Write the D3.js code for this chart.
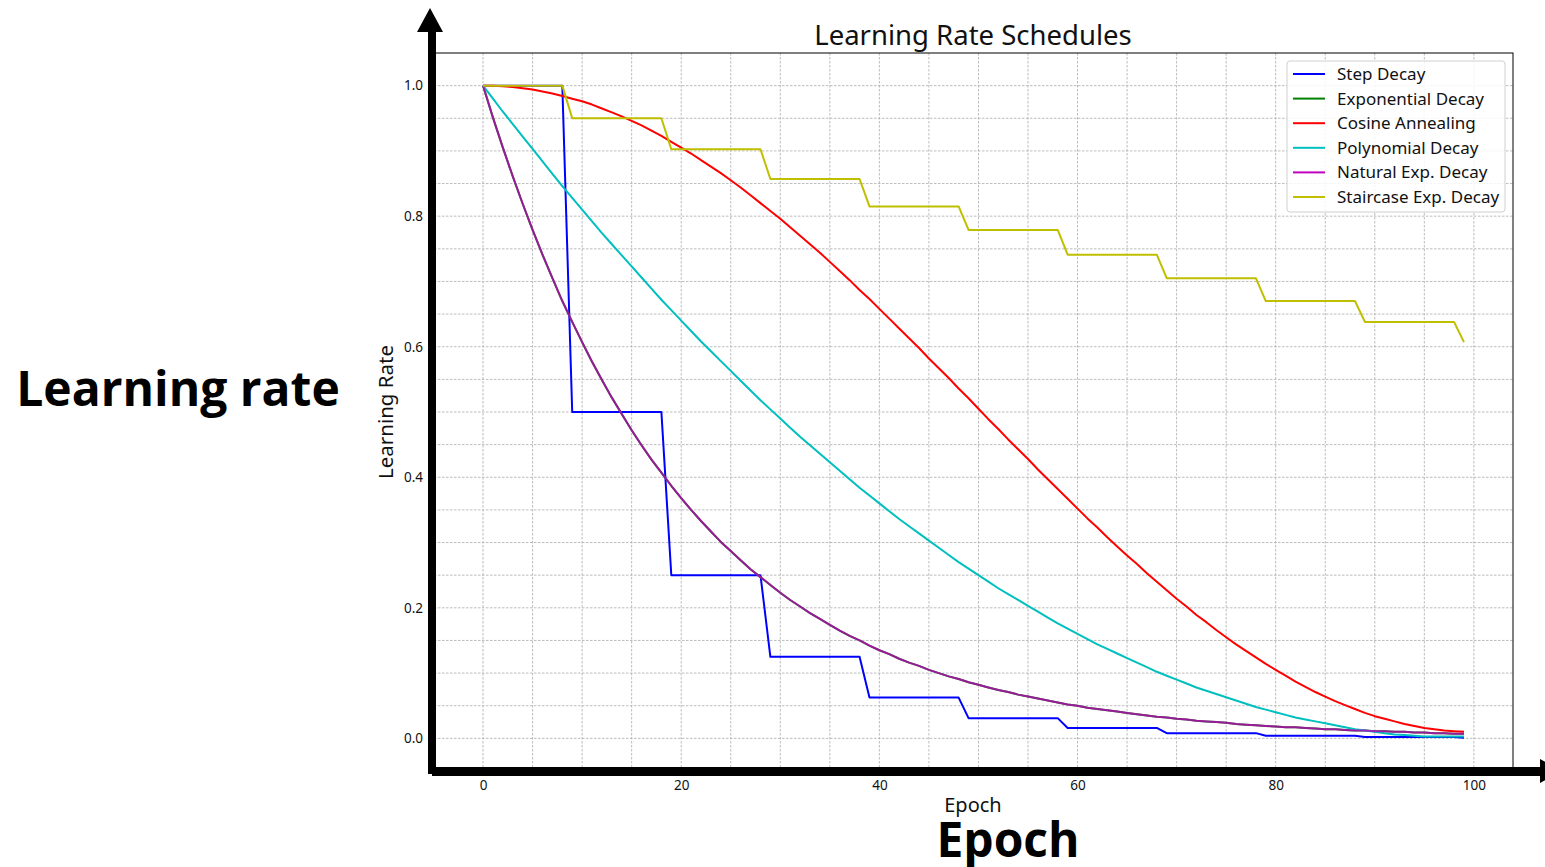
<!DOCTYPE html>
<html>
<head>
<meta charset="utf-8">
<script src="https://cdn.jsdelivr.net/npm/d3@7"></script>
<style>
  body { margin: 0; background: #fff; }
</style>
</head>
<body>
<div id="chart-area"></div>
<script>
// Epochs 0..99
const epochs = d3.range(0, 100)

// Values, one per epoch
const stepDecay = [
  1, 1, 1, 1, 1, 1, 1, 1, 1,
  0.5, 0.5, 0.5, 0.5, 0.5, 0.5, 0.5, 0.5, 0.5, 0.5,
  0.25, 0.25, 0.25, 0.25, 0.25, 0.25, 0.25, 0.25, 0.25, 0.25,
  0.125, 0.125, 0.125, 0.125, 0.125, 0.125, 0.125, 0.125, 0.125, 0.125,
  0.0625, 0.0625, 0.0625, 0.0625, 0.0625, 0.0625, 0.0625, 0.0625, 0.0625, 0.0625,
  0.031, 0.031, 0.031, 0.031, 0.031, 0.031, 0.031, 0.031, 0.031, 0.031,
  0.016, 0.016, 0.016, 0.016, 0.016, 0.016, 0.016, 0.016, 0.016, 0.016,
  0.008, 0.008, 0.008, 0.008, 0.008, 0.008, 0.008, 0.008, 0.008, 0.008,
  0.004, 0.004, 0.004, 0.004, 0.004, 0.004, 0.004, 0.004, 0.004, 0.004,
  0.002, 0.002, 0.002, 0.002, 0.002, 0.002, 0.002, 0.002, 0.002, 0.002,
  0.001
]

const expDecay = [
  1.000, 0.951, 0.905, 0.861, 0.819, 0.779, 0.741, 0.705, 0.670, 0.638,
  0.607, 0.577, 0.549, 0.522, 0.497, 0.472, 0.449, 0.427, 0.407, 0.387,
  0.368, 0.350, 0.333, 0.317, 0.301, 0.287, 0.273, 0.259, 0.247, 0.235,
  0.223, 0.212, 0.202, 0.192, 0.183, 0.174, 0.165, 0.157, 0.150, 0.142,
  0.135, 0.129, 0.122, 0.116, 0.111, 0.105, 0.100, 0.095, 0.091, 0.086,
  0.082, 0.078, 0.074, 0.071, 0.067, 0.064, 0.061, 0.058, 0.055, 0.052,
  0.050, 0.047, 0.045, 0.043, 0.041, 0.039, 0.037, 0.035, 0.033, 0.032,
  0.030, 0.029, 0.027, 0.026, 0.025, 0.024, 0.022, 0.021, 0.020, 0.019,
  0.018, 0.017, 0.017, 0.016, 0.015, 0.014, 0.014, 0.013, 0.012, 0.012,
  0.011, 0.011, 0.010, 0.010, 0.009, 0.009, 0.008, 0.008, 0.007, 0.007
]

const cosineAnnealing = [
  1.000, 1.000, 0.999, 0.998, 0.996, 0.994, 0.991, 0.988, 0.984, 0.980,
  0.976, 0.971, 0.965, 0.959, 0.953, 0.946, 0.939, 0.931, 0.923, 0.914,
  0.905, 0.896, 0.886, 0.876, 0.866, 0.855, 0.844, 0.832, 0.820, 0.808,
  0.796, 0.783, 0.770, 0.757, 0.744, 0.730, 0.716, 0.702, 0.687, 0.673,
  0.658, 0.643, 0.628, 0.613, 0.598, 0.582, 0.567, 0.552, 0.536, 0.521,
  0.505, 0.489, 0.474, 0.458, 0.443, 0.428, 0.412, 0.397, 0.382, 0.367,
  0.352, 0.337, 0.323, 0.308, 0.294, 0.280, 0.267, 0.253, 0.240, 0.227,
  0.214, 0.202, 0.189, 0.178, 0.166, 0.155, 0.144, 0.134, 0.124, 0.114,
  0.105, 0.096, 0.087, 0.079, 0.071, 0.064, 0.057, 0.051, 0.045, 0.039,
  0.034, 0.030, 0.026, 0.022, 0.019, 0.016, 0.014, 0.012, 0.011, 0.010
]

const polyDecay = [
  1.000, 0.980, 0.960, 0.941, 0.922, 0.903, 0.884, 0.865, 0.846, 0.828,
  0.810, 0.792, 0.774, 0.757, 0.740, 0.723, 0.706, 0.689, 0.672, 0.656,
  0.640, 0.624, 0.608, 0.593, 0.578, 0.563, 0.548, 0.533, 0.518, 0.504,
  0.490, 0.476, 0.462, 0.449, 0.436, 0.423, 0.410, 0.397, 0.384, 0.372,
  0.360, 0.348, 0.336, 0.325, 0.314, 0.303, 0.292, 0.281, 0.270, 0.260,
  0.250, 0.240, 0.230, 0.221, 0.212, 0.203, 0.194, 0.185, 0.176, 0.168,
  0.160, 0.152, 0.144, 0.137, 0.130, 0.123, 0.116, 0.109, 0.102, 0.096,
  0.090, 0.084, 0.078, 0.073, 0.068, 0.063, 0.058, 0.053, 0.048, 0.044,
  0.040, 0.036, 0.032, 0.029, 0.026, 0.023, 0.020, 0.017, 0.014, 0.012,
  0.010, 0.008, 0.006, 0.005, 0.004, 0.003, 0.003, 0.003, 0.003, 0.003
]

// Natural exp. decay lies right on top of the exponential curve
const naturalExpDecay = [
  1.000, 0.951, 0.905, 0.861, 0.819, 0.779, 0.741, 0.705, 0.670, 0.638,
  0.607, 0.577, 0.549, 0.522, 0.497, 0.472, 0.449, 0.427, 0.407, 0.387,
  0.368, 0.350, 0.333, 0.317, 0.301, 0.287, 0.273, 0.259, 0.247, 0.235,
  0.223, 0.212, 0.202, 0.192, 0.183, 0.174, 0.165, 0.157, 0.150, 0.142,
  0.135, 0.129, 0.122, 0.116, 0.111, 0.105, 0.100, 0.095, 0.091, 0.086,
  0.082, 0.078, 0.074, 0.071, 0.067, 0.064, 0.061, 0.058, 0.055, 0.052,
  0.050, 0.047, 0.045, 0.043, 0.041, 0.039, 0.037, 0.035, 0.033, 0.032,
  0.030, 0.029, 0.027, 0.026, 0.025, 0.024, 0.022, 0.021, 0.020, 0.019,
  0.018, 0.017, 0.017, 0.016, 0.015, 0.014, 0.014, 0.013, 0.012, 0.012,
  0.011, 0.011, 0.010, 0.010, 0.009, 0.009, 0.008, 0.008, 0.007, 0.007
]

const staircaseDecay = [
  1, 1, 1, 1, 1, 1, 1, 1, 1,
  0.95, 0.95, 0.95, 0.95, 0.95, 0.95, 0.95, 0.95, 0.95, 0.95,
  0.9025, 0.9025, 0.9025, 0.9025, 0.9025, 0.9025, 0.9025, 0.9025, 0.9025, 0.9025,
  0.857, 0.857, 0.857, 0.857, 0.857, 0.857, 0.857, 0.857, 0.857, 0.857,
  0.815, 0.815, 0.815, 0.815, 0.815, 0.815, 0.815, 0.815, 0.815, 0.815,
  0.779, 0.779, 0.779, 0.779, 0.779, 0.779, 0.779, 0.779, 0.779, 0.779,
  0.741, 0.741, 0.741, 0.741, 0.741, 0.741, 0.741, 0.741, 0.741, 0.741,
  0.705, 0.705, 0.705, 0.705, 0.705, 0.705, 0.705, 0.705, 0.705, 0.705,
  0.670, 0.670, 0.670, 0.670, 0.670, 0.670, 0.670, 0.670, 0.670, 0.670,
  0.638, 0.638, 0.638, 0.638, 0.638, 0.638, 0.638, 0.638, 0.638, 0.638,
  0.607
]

const seriesNames = ["Step Decay", "Exponential Decay", "Cosine Annealing",
  "Polynomial Decay", "Natural Exp. Decay", "Staircase Exp. Decay"]
const seriesValues = [stepDecay, expDecay, cosineAnnealing, polyDecay, naturalExpDecay, staircaseDecay]
const seriesColors = ["#0000ff", "#008000", "#ff0000", "#00bfbf", "#bf00bf", "#bfbf00"]

const xTicks = [0, 20, 40, 60, 80, 100]
const yTicks = [0.0, 0.2, 0.4, 0.6, 0.8, 1.0]

const FONT = "'Noto Sans', 'Open Sans', sans-serif"

// Plot area in page pixels
const W = 1545, H = 867
const PLOT = { LEFT: 434, RIGHT: 1513, TOP: 53, BOTTOM: 771 }

const svg = d3.select("#chart-area").append("svg")
  .attr("width", W)
  .attr("height", H)

const x = d3.scaleLinear().domain([-4.95, 103.95]).range([PLOT.LEFT, PLOT.RIGHT])
const y = d3.scaleLinear().domain([-0.05, 1.05]).range([PLOT.BOTTOM, PLOT.TOP])

// Grid (major + minor, both dashed)
const grid = svg.append("g").attr("class", "grid")
grid.selectAll("line.vx")
  .data(d3.range(0, 101, 5))
  .enter().append("line")
  .attr("x1", d => x(d)).attr("x2", d => x(d))
  .attr("y1", PLOT.TOP).attr("y2", PLOT.BOTTOM)
grid.selectAll("line.hy")
  .data(d3.range(0, 21).map(i => i * 0.05))
  .enter().append("line")
  .attr("x1", PLOT.LEFT).attr("x2", PLOT.RIGHT)
  .attr("y1", d => y(d)).attr("y2", d => y(d))
grid.selectAll("line")
  .attr("stroke", "#b4b4b4")
  .attr("stroke-width", 0.9)
  .attr("stroke-dasharray", "2.5,1.5")

// Frame (top and right show, the others sit under the thick arrows)
svg.append("rect")
  .attr("x", PLOT.LEFT).attr("y", PLOT.TOP)
  .attr("width", PLOT.RIGHT - PLOT.LEFT).attr("height", PLOT.BOTTOM - PLOT.TOP)
  .attr("fill", "none").attr("stroke", "#000").attr("stroke-width", 1)

// Lines
const line = d3.line()
  .x((d, i) => x(epochs[i]))
  .y(d => y(d))

seriesValues.forEach((vals, i) => {
  svg.append("path")
    .datum(vals)
    .attr("d", line)
    .attr("fill", "none")
    .attr("stroke", seriesColors[i])
    .attr("stroke-width", 2)
    .attr("stroke-opacity", i === 4 ? 0.8 : 1)
    .attr("stroke-linejoin", "round")
})

// Tick labels
const xAxis = svg.append("g")
  .attr("transform", `translate(0, ${PLOT.BOTTOM})`)
  .call(d3.axisBottom(x).tickValues(xTicks).tickSize(0).tickPadding(9))
xAxis.select(".domain").remove()
xAxis.selectAll("text").style("font-size", "13.5px").style("font-family", FONT).attr("fill", "#111")

const yAxis = svg.append("g")
  .attr("transform", `translate(${PLOT.LEFT}, 0)`)
  .call(d3.axisLeft(y).tickValues(yTicks).tickFormat(d3.format(".1f")).tickSize(0).tickPadding(11))
yAxis.select(".domain").remove()
yAxis.selectAll("text").style("font-size", "13.5px").style("font-family", FONT).attr("fill", "#111")

// Title and axis labels
svg.append("text")
  .attr("x", 973)
  .attr("y", 45)
  .attr("text-anchor", "middle")
  .style("font-family", FONT)
  .style("font-size", "27.5px")
  .attr("fill", "#111")
  .text("Learning Rate Schedules")

svg.append("text")
  .attr("x", 973)
  .attr("y", 812)
  .attr("text-anchor", "middle")
  .style("font-family", FONT)
  .style("font-size", "20px")
  .attr("fill", "#111")
  .text("Epoch")

svg.append("text")
  .attr("transform", `translate(393, ${(PLOT.TOP + PLOT.BOTTOM) / 2}) rotate(-90)`)
  .attr("text-anchor", "middle")
  .style("font-family", FONT)
  .style("font-size", "20.5px")
  .attr("fill", "#111")
  .text("Learning Rate")

// Legend
const legend = svg.append("g").attr("transform", "translate(1287, 61)")
legend.append("rect")
  .attr("width", 218).attr("height", 151)
  .attr("rx", 3)
  .attr("fill", "#fff").attr("fill-opacity", 0.85)
  .attr("stroke", "#d0d0d0")
seriesNames.forEach((name, i) => {
  const row = legend.append("g").attr("transform", `translate(0, ${13 + i * 24.6})`)
  row.append("line")
    .attr("x1", 6).attr("x2", 38)
    .attr("stroke", seriesColors[i]).attr("stroke-width", 2)
  row.append("text")
    .attr("x", 50).attr("y", 6)
    .style("font-family", FONT)
    .style("font-size", "17px")
    .attr("fill", "#111")
    .text(name)
})

// Thick black arrow axes drawn over the chart
svg.append("rect").attr("x", 428).attr("y", 30).attr("width", 8).attr("height", 744).attr("fill", "#000")
svg.append("path").attr("d", "M417,32 L443,32 L430,8 Z").attr("fill", "#000")
svg.append("rect").attr("x", 432).attr("y", 767).attr("width", 1112).attr("height", 9).attr("fill", "#000")
svg.append("path").attr("d", "M1540,759 L1540,783 L1562,771 Z").attr("fill", "#000")

// Big overlay labels
svg.append("text")
  .attr("x", 178).attr("y", 406)
  .attr("text-anchor", "middle")
  .style("font-family", "'Open Sans', 'Noto Sans', sans-serif")
  .style("font-weight", "700")
  .style("font-size", "48px")
  .attr("fill", "#000")
  .text("Learning rate")

svg.append("text")
  .attr("x", 1008).attr("y", 857)
  .attr("text-anchor", "middle")
  .style("font-family", "'Open Sans', 'Noto Sans', sans-serif")
  .style("font-weight", "700")
  .style("font-size", "48px")
  .attr("fill", "#000")
  .text("Epoch")
</script>
</body>
</html>
